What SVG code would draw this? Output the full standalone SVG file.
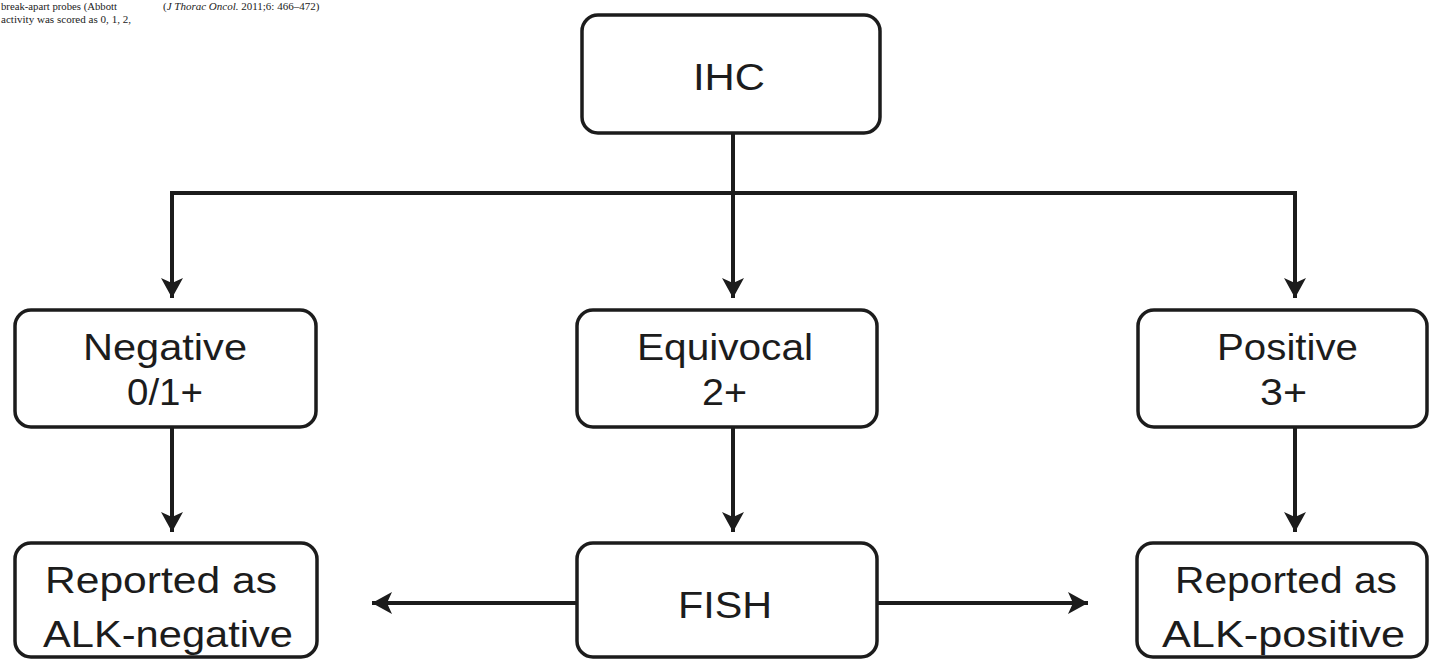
<svg xmlns="http://www.w3.org/2000/svg" width="1430" height="660" viewBox="0 0 1430 660">
<style>
.box{fill:#fff;stroke:#1c1c1c;stroke-width:3.5}
.lbl{font-family:"Liberation Sans",Arial,sans-serif;font-size:36px;fill:#1c1c1c}
.ln{fill:none;stroke:#1c1c1c;stroke-width:4}
.cap{font-family:"Liberation Serif","Times New Roman",serif;font-size:11px;fill:#222}
</style>
<defs>
<marker id="ah" viewBox="0 0 20 22" refX="20" refY="11" markerWidth="20" markerHeight="22" markerUnits="userSpaceOnUse" orient="auto">
<path d="M0,0 L20,11 L0,22 L5,11 Z" fill="#1c1c1c"/>
</marker>
</defs>
<rect width="1430" height="660" fill="#fff"/>
<g id="caption">
<text class="cap" x="1" y="10" textLength="116" lengthAdjust="spacingAndGlyphs">break-apart probes (Abbott</text>
<text class="cap" x="1" y="23" textLength="130" lengthAdjust="spacingAndGlyphs">activity was scored as 0, 1, 2,</text>
<text class="cap" x="163" y="10">(<tspan font-style="italic">J Thorac Oncol.</tspan> 2011;6: 466–472)</text>
</g>
<g id="connectors">
<path class="ln" d="M733,133 V298" marker-end="url(#ah)"/>
<path class="ln" d="M172,298 V193 H1295 V298" stroke-width="5"/>
<path class="ln" d="M172,280 V298" marker-end="url(#ah)"/>
<path class="ln" d="M1295,280 V298" marker-end="url(#ah)"/>
<path class="ln" d="M172,427 V532" marker-end="url(#ah)"/>
<path class="ln" d="M733,427 V532" marker-end="url(#ah)"/>
<path class="ln" d="M1295,427 V532" marker-end="url(#ah)"/>
<path class="ln" d="M577,603 H372" marker-end="url(#ah)"/>
<path class="ln" d="M877,603 H1088" marker-end="url(#ah)"/>
</g>
<g id="ihc">
<rect class="box" x="582" y="15" width="298" height="118" rx="16"/>
<text class="lbl" x="693" y="90" textLength="72" lengthAdjust="spacingAndGlyphs">IHC</text>
</g>
<g id="negative">
<rect class="box" x="15" y="310" width="301" height="117" rx="16"/>
<text class="lbl" x="83" y="360" textLength="164" lengthAdjust="spacingAndGlyphs">Negative</text>
<text class="lbl" x="127" y="405" textLength="76" lengthAdjust="spacingAndGlyphs">0/1+</text>
</g>
<g id="equivocal">
<rect class="box" x="577" y="310" width="300" height="117" rx="16"/>
<text class="lbl" x="637" y="360" textLength="176" lengthAdjust="spacingAndGlyphs">Equivocal</text>
<text class="lbl" x="702" y="405" textLength="45" lengthAdjust="spacingAndGlyphs">2+</text>
</g>
<g id="positive">
<rect class="box" x="1138" y="310" width="289" height="117" rx="16"/>
<text class="lbl" x="1217" y="360" textLength="141" lengthAdjust="spacingAndGlyphs">Positive</text>
<text class="lbl" x="1260" y="405" textLength="47" lengthAdjust="spacingAndGlyphs">3+</text>
</g>
<g id="alk-negative">
<rect class="box" x="15" y="543" width="302" height="114" rx="16"/>
<text class="lbl" x="45" y="593" textLength="232" lengthAdjust="spacingAndGlyphs">Reported as</text>
<text class="lbl" x="43" y="647" textLength="250" lengthAdjust="spacingAndGlyphs">ALK-negative</text>
</g>
<g id="fish">
<rect class="box" x="577" y="543" width="300" height="114" rx="16"/>
<text class="lbl" x="678" y="618" textLength="94" lengthAdjust="spacingAndGlyphs">FISH</text>
</g>
<g id="alk-positive">
<rect class="box" x="1137" y="543" width="290" height="114" rx="16"/>
<text class="lbl" x="1175" y="593" textLength="222" lengthAdjust="spacingAndGlyphs">Reported as</text>
<text class="lbl" x="1162" y="647" textLength="243" lengthAdjust="spacingAndGlyphs">ALK-positive</text>
</g>
</svg>
